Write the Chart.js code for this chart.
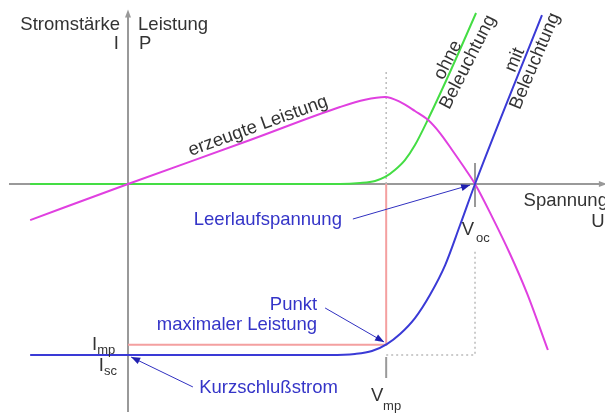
<!DOCTYPE html>
<html>
<head>
<meta charset="utf-8">
<script src="https://cdn.jsdelivr.net/npm/chart.js@4.4.1/dist/chart.umd.min.js"></script>
<style>
  html, body { margin: 0; padding: 0; background: #fff; }
  canvas { display: block; }
</style>
</head>
<body>
<canvas id="myChart" width="605" height="415"></canvas>
<script>
// units: voltage U with Voc = 1, current I with Isc = -1, power P same scale
const voc = 1.0;
const vmp = 0.744;
const isc = -1.0;
const imp = -0.94;

// dark curve (ohne Beleuchtung)
const darkU = [-0.282, 0.611, 0.669, 0.712, 0.741, 0.769, 0.798, 0.827, 0.865, 0.928, 1.003];
const darkI = [0, 0, 0.006, 0.018, 0.041, 0.082, 0.140, 0.228, 0.380, 0.655, 1.0];

// illuminated curve (mit Beleuchtung)
const lightU = [-0.282, 0.582, 0.654, 0.703, 0.746, 0.784, 0.827, 0.870, 0.914, 0.957, 1.0, 1.193];
const lightI = [-1.0, -1.0, -0.994, -0.977, -0.936, -0.877, -0.784, -0.649, -0.474, -0.240, 0, 0.988];

// generated power (erzeugte Leistung)
const powerU = [-0.282, 0, 0.352, 0.611, 0.683, 0.741, 0.784, 0.827, 0.865, 0.899, 0.934, 0.968, 1.0, 1.05, 1.10, 1.15, 1.21];
const powerP = [-0.211, 0, 0.257, 0.450, 0.493, 0.509, 0.480, 0.427, 0.374, 0.298, 0.199, 0.099, 0, -0.195, -0.405, -0.640, -0.971];

const toPoints = (xs, ys) => xs.map((x, i) => ({ x: x, y: ys[i] }));

const grey = '#999999';
const textGrey = '#333333';
const blueText = '#3535c8';
const font = '"Liberation Sans", Arial, sans-serif';

// text annotations (positions in chart units)
const notes = [
  { text: 'Stromstärke', u: -0.023, v: 0.930, align: 'right' },
  { text: 'I', u: -0.026, v: 0.819, align: 'right' },
  { text: 'Leistung', u: 0.029, v: 0.930, align: 'left' },
  { text: 'P', u: 0.032, v: 0.819, align: 'left' },
  { text: 'erzeugte Leistung', u: 0.375, v: 0.339, align: 'center', rot: -20 },
  { text: 'ohne', u: 0.922, v: 0.725, align: 'center', rot: -63 },
  { text: 'Beleuchtung', u: 0.980, v: 0.713, align: 'center', rot: -63 },
  { text: 'mit', u: 1.115, v: 0.725, align: 'center', rot: -67 },
  { text: 'Beleuchtung', u: 1.173, v: 0.719, align: 'center', rot: -67 },
  { text: 'Spannung', u: 1.383, v: -0.099, align: 'right' },
  { text: 'U', u: 1.354, v: -0.222, align: 'center' },
  { text: 'Leerlaufspannung', u: 0.403, v: -0.211, align: 'center', color: blueText },
  { text: 'Punkt', u: 0.545, v: -0.708, align: 'right', color: blueText },
  { text: 'maximaler Leistung', u: 0.545, v: -0.825, align: 'right', color: blueText },
  { text: 'Kurzschlußstrom', u: 0.205, v: -1.193, align: 'left', color: blueText },
  { text: 'V', u: 0.962, v: -0.269, align: 'left' },
  { text: 'oc', u: 1.003, v: -0.316, align: 'left', small: true },
  { text: 'V', u: 0.700, v: -1.240, align: 'left' },
  { text: 'mp', u: 0.735, v: -1.298, align: 'left', small: true },
  { text: 'I', u: -0.104, v: -0.942, align: 'left' },
  { text: 'mp', u: -0.089, v: -0.971, align: 'left', small: true },
  { text: 'I', u: -0.084, v: -1.064, align: 'left' },
  { text: 'sc', u: -0.069, v: -1.094, align: 'left', small: true }
];

const pointers = [
  { from: [0.648, -0.205], to: [0.986, -0.006] },
  { from: [0.568, -0.725], to: [0.738, -0.924] },
  { from: [0.187, -1.187], to: [0.009, -1.012] }
];

function arrowHead(ctx, x1, y1, x2, y2, len, half) {
  const a = Math.atan2(y2 - y1, x2 - x1);
  ctx.beginPath();
  ctx.moveTo(x2, y2);
  ctx.lineTo(x2 - len * Math.cos(a) + half * Math.sin(a), y2 - len * Math.sin(a) - half * Math.cos(a));
  ctx.lineTo(x2 - len * Math.cos(a) - half * Math.sin(a), y2 - len * Math.sin(a) + half * Math.cos(a));
  ctx.closePath();
  ctx.fill();
}

const diagram = {
  id: 'diagram',
  beforeDatasetsDraw(chart) {
    const ctx = chart.ctx;
    const sx = chart.scales.x, sy = chart.scales.y;
    const X = u => sx.getPixelForValue(u), Y = v => sy.getPixelForValue(v);
    ctx.save();
    ctx.strokeStyle = grey;
    ctx.fillStyle = grey;
    ctx.lineWidth = 2;
    // axes
    ctx.beginPath();
    ctx.moveTo(X(-0.343), Y(0));
    ctx.lineTo(X(1.372), Y(0));
    ctx.moveTo(X(0), Y(-1.333));
    ctx.lineTo(X(0), Y(0.994));
    // tick marks at Voc and Vmp
    ctx.moveTo(X(voc), Y(0.123));
    ctx.lineTo(X(voc), Y(-0.135));
    ctx.moveTo(X(vmp), Y(-1.012));
    ctx.lineTo(X(vmp), Y(-1.135));
    ctx.stroke();
    arrowHead(ctx, X(0), Y(0), X(1.380), Y(0), 8, 3);
    arrowHead(ctx, X(0), Y(0), X(0), Y(1.02), 8, 3);
    ctx.restore();
  },
  afterDatasetsDraw(chart) {
    const ctx = chart.ctx;
    const sx = chart.scales.x, sy = chart.scales.y;
    const X = u => sx.getPixelForValue(u), Y = v => sy.getPixelForValue(v);
    ctx.save();
    // pointer arrows
    ctx.strokeStyle = '#3030c0';
    ctx.fillStyle = '#2020b0';
    ctx.lineWidth = 1;
    pointers.forEach(p => {
      const x1 = X(p.from[0]), y1 = Y(p.from[1]), x2 = X(p.to[0]), y2 = Y(p.to[1]);
      ctx.beginPath();
      ctx.moveTo(x1, y1);
      ctx.lineTo(x2, y2);
      ctx.stroke();
      arrowHead(ctx, x1, y1, x2, y2, 9, 3.5);
    });
    // labels
    ctx.textBaseline = 'middle';
    notes.forEach(n => {
      ctx.save();
      ctx.translate(X(n.u), Y(n.v));
      if (n.rot) ctx.rotate(n.rot * Math.PI / 180);
      ctx.font = (n.small ? '13px ' : '18.5px ') + font;
      ctx.fillStyle = n.color || textGrey;
      ctx.textAlign = n.align;
      ctx.fillText(n.text, 0, 0);
      ctx.restore();
    });
    ctx.restore();
  }
};

const ctx = document.getElementById('myChart');
const myChart = new Chart(ctx, {
  type: 'scatter',
  data: {
    datasets: [
      {
        label: 'mit Beleuchtung',
        data: toPoints(lightU, lightI),
        borderColor: '#3a3ad6',
        borderWidth: 2,
        cubicInterpolationMode: 'monotone'
      },
      {
        label: 'erzeugte Leistung',
        data: toPoints(powerU, powerP),
        borderColor: '#e040e0',
        borderWidth: 2,
        cubicInterpolationMode: 'monotone'
      },
      {
        label: 'ohne Beleuchtung',
        data: toPoints(darkU, darkI),
        borderColor: '#44dd44',
        borderWidth: 2,
        cubicInterpolationMode: 'monotone'
      },
      {
        label: 'MPP',
        data: [{ x: 0, y: imp }, { x: vmp, y: imp }, { x: vmp, y: 0 }],
        borderColor: '#f4a0a0',
        borderWidth: 2
      },
      {
        label: 'guide1',
        data: [{ x: vmp, y: 0 }, { x: vmp, y: 0.667 }],
        borderColor: '#bbbbbb',
        borderWidth: 1.5,
        borderDash: [2, 3]
      },
      {
        label: 'guide2',
        data: [{ x: vmp, y: isc }, { x: voc, y: isc }, { x: voc, y: -0.386 }],
        borderColor: '#bbbbbb',
        borderWidth: 1.5,
        borderDash: [2, 3]
      }
    ]
  },
  options: {
    responsive: false,
    animation: false,
    devicePixelRatio: 1,
    showLine: true,
    layout: { padding: 0 },
    elements: { point: { radius: 0 }, line: { tension: 0 } },
    plugins: { legend: { display: false }, tooltip: { enabled: false } },
    scales: {
      x: { type: 'linear', display: false, min: -0.3689, max: 1.3746 },
      y: { type: 'linear', display: false, min: -1.351, max: 1.076 }
    }
  },
  plugins: [diagram]
});
</script>
</body>
</html>
